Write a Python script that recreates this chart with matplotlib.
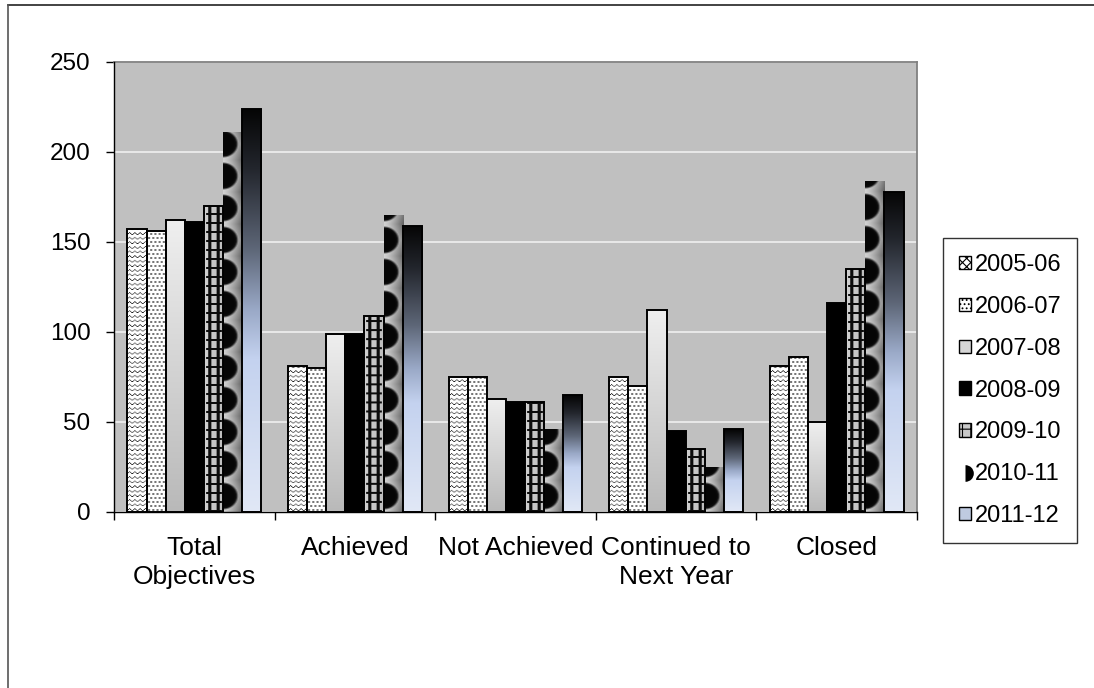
import numpy as np
import matplotlib
matplotlib.use("Agg")
import matplotlib.pyplot as plt
from matplotlib.patches import Rectangle
from matplotlib.lines import Line2D
from matplotlib.markers import MarkerStyle
from matplotlib.colors import to_rgb

plt.rcParams['font.family'] = ['Liberation Sans', 'DejaVu Sans']
plt.rcParams['hatch.linewidth'] = 0.8

# ---- data -------------------------------------------------------------
categories = ["Total\nObjectives", "Achieved", "Not Achieved",
              "Continued to\nNext Year", "Closed"]
years = ["2005-06", "2006-07", "2007-08", "2008-09", "2009-10", "2010-11", "2011-12"]

vals_2005_06 = [157, 81, 75, 75, 81]
vals_2006_07 = [156, 80, 75, 70, 86]
vals_2007_08 = [162, 99, 63, 112, 50]
vals_2008_09 = [161, 99, 61, 45, 116]
vals_2009_10 = [170, 109, 61, 35, 135]
vals_2010_11 = [211, 165, 46, 25, 184]
vals_2011_12 = [224, 159, 65, 46, 178]
series = [vals_2005_06, vals_2006_07, vals_2007_08, vals_2008_09,
          vals_2009_10, vals_2010_11, vals_2011_12]

yticks = [0, 50, 100, 150, 200, 250]

# ---- fill textures (functions of pixel position inside a bar) ---------
def grids(w, h):
    xx = np.arange(w)[None, :] + 0.5 + np.zeros((h, 1))
    yb = (h - 1 - np.arange(h))[:, None] + 0.5 + np.zeros((1, w))  # from baseline
    return xx, yb


def gray(v):
    v = np.clip(v, 0, 1)
    return np.dstack([v, v, v])


def tex_wave(w, h):
    xx, yb = grids(w, h)
    per, lam, amp = 4.6, 5.0, 1.1
    tri = np.abs((xx / lam) % 1.0 - 0.5) * 2.0 - 0.5
    f = (yb + amp * 2 * tri) % per
    prof = np.clip(1.0 - np.abs(f - per / 2) / 0.75, 0, 1)
    return gray(1.0 - 0.95 * prof)


def tex_dots(w, h):
    xx, yb = grids(w, h)
    sp = 4.0
    row = np.floor(yb / sp)
    sx = (xx + (row % 2) * sp / 2) % sp - sp / 2
    sy = yb % sp - sp / 2
    d = np.sqrt(sx ** 2 + sy ** 2)
    prof = np.clip(1.3 - d, 0, 1)
    return gray(1.0 - 0.9 * prof)


def tex_vgrad(w, h, stops):
    pos = [s[0] for s in stops]
    cols = np.array([to_rgb(s[1]) for s in stops])
    t = np.linspace(0, 1, h)
    out = np.zeros((h, w, 3))
    for c in range(3):
        out[:, :, c] = np.interp(t, pos, cols[:, c])[:, None]
    return out


def tex_ladder(w, h):
    xx, yb = grids(w, h)
    img = np.full((h, w), 0.82)
    img -= 0.08 * (xx / w)
    for cx in (0.28 * w, 0.72 * w):
        img[np.abs(xx - cx) < 1.2] = 0.05
    per = 9.0
    f = yb % per
    rung = (f < 2.2) & (xx > 0.12 * w) & (xx < 0.88 * w)
    img[rung] = 0.05
    return gray(img)


def tex_balls(w, h):
    xx, yb = grids(w, h)
    per = 32.0
    f = (yb % per) - per / 2
    bg = 0.97 - 0.45 * (xx / w) ** 1.3 - 0.15 * (np.abs(f) / (per / 2))
    ex = xx / (0.74 * w)
    ey = f / (0.42 * per)
    r = np.sqrt(ex ** 2 + ey ** 2)
    inside = np.clip((1.05 - r) / 0.15, 0, 1)
    ball = 0.02 + 0.25 * np.clip(r - 0.75, 0, 1)
    return gray(bg * (1 - inside) + ball * inside)


blue_stops = [(0.0, '#050505'), (0.15, '#23262d'), (0.35, '#5e6778'),
              (0.5, '#9aa9c7'), (0.62, '#c4d2ef'), (1.0, '#e1e8f6')]
gray_stops = [(0.0, '#efefef'), (1.0, '#b9b9b9')]

fills = [
    ('tex', tex_wave, 'black'),
    ('tex', tex_dots, 'black'),
    ('tex', lambda w, h: tex_vgrad(w, h, gray_stops), 'black'),
    ('solid', 'black', 'black'),
    ('tex', tex_ladder, 'black'),
    ('tex', tex_balls, 'none'),
    ('tex', lambda w, h: tex_vgrad(w, h, blue_stops), 'black'),
]

# ---- figure -----------------------------------------------------------
FW, FH, DPI = 1094, 688, 100
fig = plt.figure(figsize=(FW / DPI, FH / DPI), dpi=DPI)
fig.patch.set_facecolor('white')

ax = fig.add_axes([114 / FW, 1 - 512 / FH, (917 - 114) / FW, (512 - 62) / FH])
ax.set_facecolor('#c0c0c0')
ax.set_xlim(0, len(categories))
ax.set_ylim(yticks[0], yticks[-1])

n = len(series)
bw = 0.119
centers = np.arange(len(categories)) + 0.5

for k, (vals, (kind, spec, ec)) in enumerate(zip(series, fills)):
    xs = centers + (k - (n - 1) / 2) * bw
    if kind == 'solid':
        ax.bar(xs, vals, width=bw, color=spec, edgecolor=ec, linewidth=1.4, zorder=3)
        continue
    bars = ax.bar(xs, vals, width=bw, facecolor='none', edgecolor=ec,
                  linewidth=1.4, zorder=4)
    for b in bars:
        x0, y0 = b.get_x(), b.get_y()
        x1, y1 = x0 + b.get_width(), y0 + b.get_height()
        p0 = ax.transData.transform((x0, y0))
        p1 = ax.transData.transform((x1, y1))
        wpx = max(int(round(p1[0] - p0[0])), 1)
        hpx = max(int(round(p1[1] - p0[1])), 1)
        img = spec(wpx, hpx)
        im = ax.imshow(img, extent=(x0, x1, y0, y1), origin='upper',
                       aspect='auto', interpolation='bilinear', zorder=3)
        im.set_clip_path(b)

ax.set_xlim(0, len(categories))
ax.set_ylim(yticks[0], yticks[-1])

# axes styling
ax.set_yticks(yticks)
ax.yaxis.grid(True, color='#ececec', linewidth=1.3)
ax.set_axisbelow(True)
ax.tick_params(axis='y', which='major', direction='out', length=6, width=1,
               pad=11, labelsize=17.5, colors='black')
ax.set_xticks(np.arange(len(categories) + 1))
ax.set_xticklabels([])
ax.tick_params(axis='x', which='major', direction='out', length=6, width=1)
ax.set_xticks(centers, minor=True)
ax.set_xticklabels(categories, minor=True)
ax.tick_params(axis='x', which='minor', length=0, pad=17, labelsize=19)
for t in ax.get_xticklabels(minor=True):
    t.set_linespacing(1.3)
for s in ('left', 'bottom'):
    ax.spines[s].set_color('black')
    ax.spines[s].set_linewidth(1.0)
    ax.spines[s].set_zorder(5)
for s in ('top', 'right'):
    ax.spines[s].set_color('#808080')
    ax.spines[s].set_linewidth(1.3)

# legend
handles = [
    Rectangle((0, 0), 1, 1, facecolor='white', edgecolor='black', hatch='xxxx', lw=1),
    Rectangle((0, 0), 1, 1, facecolor='white', edgecolor='black', hatch='....', lw=1),
    Rectangle((0, 0), 1, 1, facecolor='#d6d6d6', edgecolor='black', lw=1),
    Rectangle((0, 0), 1, 1, facecolor='black', edgecolor='black', lw=1),
    Rectangle((0, 0), 1, 1, facecolor='#c8c8c8', edgecolor='black', hatch='++', lw=1),
    Line2D([], [], linestyle='none', marker=MarkerStyle('o', fillstyle='right'),
           markerfacecolor='black', markerfacecoloralt='none',
           markeredgewidth=0, markersize=12),
    Rectangle((0, 0), 1, 1, facecolor='#bfcae0', edgecolor='black', lw=1),
]
leg = fig.legend(handles, years, loc='upper left',
                 bbox_to_anchor=(943 / FW, 1 - 238 / FH),
                 bbox_transform=fig.transFigure, borderaxespad=0,
                 fontsize=17, frameon=True, fancybox=False, shadow=False,
                 handlelength=0.5, handleheight=0.5, handletextpad=0.15,
                 labelspacing=0.84, borderpad=0.68)
leg.get_frame().set_edgecolor('black')
leg.get_frame().set_linewidth(1.0)

# outer frame of the figure box
fig.add_artist(Line2D([8 / FW, 1], [1 - 5 / FH, 1 - 5 / FH],
                      transform=fig.transFigure, color='#222222', lw=1.2))
fig.add_artist(Line2D([8 / FW, 8 / FW], [0, 1 - 5 / FH],
                      transform=fig.transFigure, color='#555555', lw=1.2))

fig.savefig('out.png', dpi=DPI, facecolor='white')
